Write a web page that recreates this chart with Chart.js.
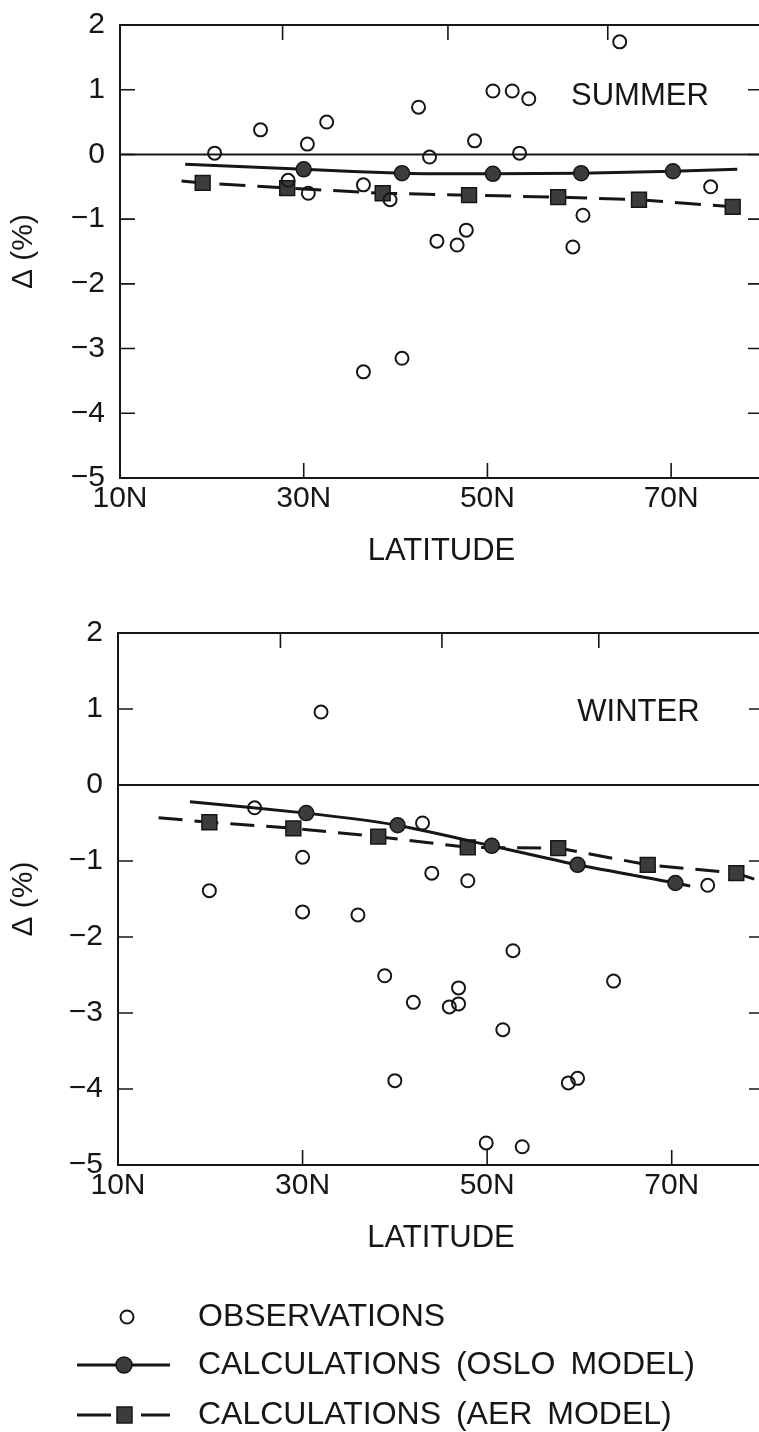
<!DOCTYPE html>
<html><head><meta charset="utf-8">
<script src="https://cdn.jsdelivr.net/npm/chart.js@4.4.1/dist/chart.umd.min.js"></script>
<style>
html,body{margin:0;padding:0;background:#fff;overflow:hidden;width:759px;height:1432px;position:relative;}
canvas{position:absolute;left:0;}
#c1{top:0;} #c2{top:600px;}
</style></head><body>
<canvas id="c1" width="780" height="600"></canvas>
<canvas id="c2" width="780" height="832"></canvas>
<script>
// ---------- axis ticks ----------
const xTickValues = [10, 30, 50, 70];
const yTickValues = [2, 1, 0, -1, -2, -3, -4, -5];
const summerTopTicks = [27.7, 45.7, 63.1];
const winterTopTicks = [27.6, 45.1, 62.1];

// ---------- SUMMER ----------
const summerObsLat = [20.3, 25.3, 28.3, 30.4, 30.5, 32.5, 36.5, 36.5, 39.4, 40.7, 42.5, 43.7, 44.5, 46.7, 47.7, 48.6, 50.6, 52.7, 53.5, 54.5, 59.3, 60.4, 64.4, 74.3];
const summerObsVal = [0.02, 0.38, -0.40, 0.16, -0.60, 0.50, -0.47, -3.36, -0.70, -3.15, 0.73, -0.04, -1.34, -1.40, -1.17, 0.21, 0.98, 0.98, 0.02, 0.86, -1.43, -0.94, 1.74, -0.50];
const summerOsloLat = [17.1, 30.0, 40.7, 50.6, 60.2, 70.2, 77.2];
const summerOsloVal = [-0.15, -0.23, -0.29, -0.30, -0.29, -0.26, -0.23];
const summerAerLat = [16.7, 19.0, 28.2, 38.6, 48.0, 57.7, 66.5, 76.7, 78.3];
const summerAerVal = [-0.41, -0.44, -0.52, -0.60, -0.63, -0.66, -0.70, -0.81, -0.83];

// ---------- WINTER ----------
const winterObsLat = [19.9, 24.8, 30.0, 30.0, 32.0, 36.0, 38.9, 40.0, 42.0, 43.0, 44.0, 45.9, 46.9, 46.9, 47.9, 49.9, 51.7, 52.8, 53.8, 58.8, 59.8, 63.7, 73.9];
const winterObsVal = [-1.39, -0.30, -0.95, -1.67, 0.96, -1.71, -2.51, -3.89, -2.86, -0.50, -1.16, -2.92, -2.67, -2.88, -1.26, -4.71, -3.22, -2.18, -4.76, -3.92, -3.86, -2.58, -1.32];
const winterOsloLat = [17.8, 30.4, 40.3, 50.5, 59.8, 70.4, 72.0];
const winterOsloVal = [-0.22, -0.37, -0.53, -0.80, -1.05, -1.29, -1.33];
const winterAerLat = [14.4, 19.9, 29.0, 38.2, 47.9, 57.7, 67.4, 77.0, 80.0];
const winterAerVal = [-0.43, -0.49, -0.57, -0.68, -0.82, -0.83, -1.05, -1.16, -1.28];

// ---------- text ----------
const seasonNames = ['SUMMER', 'WINTER'];
const legendLabels = ['OBSERVATIONS', 'CALCULATIONS (OSLO MODEL)', 'CALCULATIONS (AER MODEL)'];
const xTitle = 'LATITUDE';
const yTitle = '\u0394 (%)';

const INK = '#161616';
const FILL = '#3c3c3c';
const FONT = "'Liberation Sans', Arial, Helvetica, sans-serif";

function zip(a, b) { return a.map((v, i) => ({x: v, y: b[i]})); }
function endless(r) { return ctx => (ctx.dataIndex === 0 || ctx.dataIndex === ctx.dataset.data.length - 1) ? 0 : r; }
function fmtY(v) { return v < 0 ? '\u2212' + Math.abs(v) : String(v); }

function decorPlugin(topTicks, label, labelPos, withLegend) {
  return {
    id: 'decor',
    beforeDatasetsDraw(chart) {
      const {ctx, chartArea: a, scales: {x, y}} = chart;
      ctx.save();
      ctx.strokeStyle = INK;
      ctx.lineWidth = 2;
      ctx.strokeRect(a.left, a.top, a.right - a.left, a.bottom - a.top);
      const y0 = y.getPixelForValue(0);
      ctx.beginPath(); ctx.moveTo(a.left, y0); ctx.lineTo(a.right, y0); ctx.stroke();
      ctx.lineWidth = 1.6;
      ctx.beginPath();
      yTickValues.forEach(v => {
        const py = y.getPixelForValue(v);
        ctx.moveTo(a.left, py); ctx.lineTo(a.left + 15, py);
        ctx.moveTo(a.right - 15, py); ctx.lineTo(a.right, py);
      });
      xTickValues.forEach(v => {
        const px = x.getPixelForValue(v);
        ctx.moveTo(px, a.bottom); ctx.lineTo(px, a.bottom - 15);
      });
      topTicks.forEach(v => {
        const px = x.getPixelForValue(v);
        ctx.moveTo(px, a.top); ctx.lineTo(px, a.top + 15);
      });
      ctx.stroke();
      ctx.restore();
    },
    afterDraw(chart) {
      const {ctx, scales: {x, y}} = chart;
      ctx.save();
      ctx.fillStyle = INK;
      ctx.font = '31px ' + FONT;
      ctx.textAlign = 'center';
      ctx.textBaseline = 'middle';
      ctx.fillText(label, x.getPixelForValue(labelPos[0]), y.getPixelForValue(labelPos[1]));
      if (withLegend) {
        const rows = [717, 765, 815];
        ctx.strokeStyle = INK;
        // observations symbol
        ctx.lineWidth = 2;
        ctx.beginPath(); ctx.arc(127, rows[0], 6.5, 0, Math.PI * 2); ctx.stroke();
        // oslo symbol
        ctx.lineWidth = 3;
        ctx.beginPath(); ctx.moveTo(77, rows[1]); ctx.lineTo(170, rows[1]); ctx.stroke();
        ctx.fillStyle = FILL; ctx.lineWidth = 1.5;
        ctx.beginPath(); ctx.arc(124, rows[1], 8, 0, Math.PI * 2); ctx.fill(); ctx.stroke();
        // aer symbol
        ctx.lineWidth = 3;
        ctx.beginPath(); ctx.moveTo(77, rows[2]); ctx.lineTo(111, rows[2]);
        ctx.moveTo(141, rows[2]); ctx.lineTo(170, rows[2]); ctx.stroke();
        ctx.lineWidth = 1.5;
        ctx.fillRect(117, rows[2] - 8, 15, 16); ctx.strokeRect(117, rows[2] - 8, 15, 16);
        // texts
        ctx.fillStyle = INK;
        ctx.font = '32px ' + FONT;
        ctx.textAlign = 'left';
        try { ctx.wordSpacing = '6px'; } catch (e) {}
        legendLabels.forEach((t, i) => ctx.fillText(t, 198, rows[i]));
      }
      ctx.restore();
    }
  };
}

function makeChart(id, d, cfg) {
  const canvas = document.getElementById(id);
  return new Chart(canvas, {
    type: 'scatter',
    data: {
      datasets: [
        {
          label: legendLabels[0], data: zip(d.obsLat, d.obsVal), showLine: false, order: 0,
          pointStyle: 'circle', pointRadius: 6.5, pointBorderWidth: 2,
          pointBackgroundColor: 'rgba(255,255,255,0)', pointBorderColor: INK
        },
        {
          label: legendLabels[1], data: zip(d.osloLat, d.osloVal), showLine: true, order: 1,
          borderColor: INK, borderWidth: 3, tension: 0.2,
          pointStyle: 'circle', pointRadius: endless(7.5), pointBorderWidth: 1.5,
          pointBackgroundColor: FILL, pointBorderColor: INK
        },
        {
          label: legendLabels[2], data: zip(d.aerLat, d.aerVal), showLine: true, order: 2,
          borderColor: INK, borderWidth: 3, borderDash: cfg.dash, tension: 0,
          pointStyle: 'rect', pointRadius: endless(10.5), pointBorderWidth: 1.5,
          pointBackgroundColor: FILL, pointBorderColor: INK
        }
      ]
    },
    options: {
      responsive: false,
      animation: false,
      devicePixelRatio: 1,
      layout: {padding: {left: 0, top: cfg.top, right: cfg.right, bottom: cfg.bottom}},
      plugins: {legend: {display: false}, tooltip: {enabled: false}},
      scales: {
        x: {
          type: 'linear', min: 10, max: 80,
          afterBuildTicks: s => { s.ticks = xTickValues.map(v => ({value: v})); },
          afterFit: s => { s.height = 122; s.paddingLeft = 0; s.paddingRight = 0; },
          grid: {display: false, drawTicks: false},
          border: {display: false},
          ticks: {autoSkip: false, maxRotation: 0, padding: 3, color: INK, font: {family: FONT, size: 30}, callback: v => v + 'N'},
          title: {display: true, text: xTitle, color: INK, font: {family: FONT, size: 31}, padding: {top: 4, bottom: 30}}
        },
        y: {
          type: 'linear', min: -5, max: 2,
          afterBuildTicks: s => { s.ticks = yTickValues.map(v => ({value: v})); },
          afterFit: s => { s.width = cfg.left; s.paddingTop = 0; s.paddingBottom = 0; },
          grid: {display: false, drawTicks: false},
          border: {display: false},
          ticks: {autoSkip: false, padding: 15, color: INK, font: {family: FONT, size: 30}, callback: fmtY},
          title: {display: true, text: yTitle, color: INK, font: {family: FONT, size: 30}, padding: {top: 6, bottom: 4}}
        }
      }
    },
    plugins: [decorPlugin(cfg.topTicks, cfg.label, cfg.labelPos, cfg.legend)]
  });
}

makeChart('c1', {
  obsLat: summerObsLat, obsVal: summerObsVal,
  osloLat: summerOsloLat, osloVal: summerOsloVal,
  aerLat: summerAerLat, aerVal: summerAerVal
}, {top: 25, right: 17, bottom: 0, left: 120, dash: [26, 12], topTicks: summerTopTicks,
    label: seasonNames[0], labelPos: [66.6, 0.9], legend: false});

makeChart('c2', {
  obsLat: winterObsLat, obsVal: winterObsVal,
  osloLat: winterOsloLat, osloVal: winterOsloVal,
  aerLat: winterAerLat, aerVal: winterAerVal
}, {top: 33, right: 16, bottom: 145, left: 118, dash: [24, 12], topTicks: winterTopTicks,
    label: seasonNames[1], labelPos: [66.4, 0.96], legend: true});
</script>
</body></html>
